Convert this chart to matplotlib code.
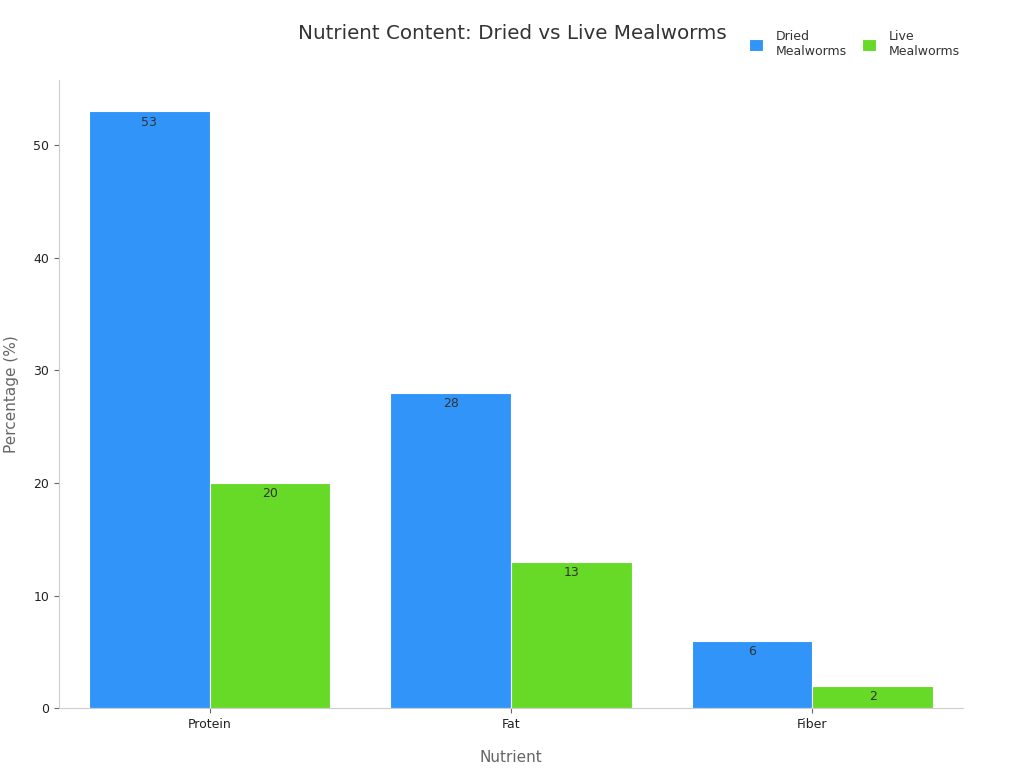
import matplotlib
matplotlib.use("Agg")
import matplotlib.pyplot as plt
import numpy as np

nutrients = ["Protein", "Fat", "Fiber"]
dried = [53, 28, 6]
live = [20, 13, 2]
series_names = ["Dried\nMealworms", "Live\nMealworms"]
colors = ["#3094F8", "#66DA26"]

plt.rcParams["font.family"] = ["DejaVu Sans"]

fig = plt.figure(figsize=(10.24, 7.68), dpi=100)
ax = fig.add_axes([0.0576, 0.078, 0.8828, 0.818])

x = np.arange(len(nutrients))
w = 0.4
for i, (vals, name, c) in enumerate(zip([dried, live], series_names, colors)):
    b = ax.bar(x - w / 2 + i * w, vals, w, color=c, edgecolor="white",
               linewidth=0.8, label=name)
    for rect, v in zip(b, vals):
        ax.annotate(str(v), (rect.get_x() + rect.get_width() / 2, v),
                    xytext=(0, -3), textcoords="offset points",
                    ha="center", va="top", fontsize=9, color="#333333")

ax.set_xlim(-0.5, 2.5)
ax.set_ylim(0, 53 * 1.053)
ax.set_xticks(x)
ax.set_xticklabels(nutrients)
ax.set_yticks([0, 10, 20, 30, 40, 50])
for s in ["top", "right"]:
    ax.spines[s].set_visible(False)
for s in ["left", "bottom"]:
    ax.spines[s].set_color("#cccccc")
ax.tick_params(axis="both", colors="#666666", labelcolor="#222222", labelsize=9)
ax.set_xlabel("Nutrient", fontsize=11, color="#666666", labelpad=14)
ax.set_ylabel("Percentage (%)", fontsize=11, color="#666666", labelpad=10)

fig.text(0.5, 0.957, "Nutrient Content: Dried vs Live Mealworms",
         ha="center", va="center", fontsize=14.3, color="#333333")
fig.legend(loc="upper right", bbox_to_anchor=(0.948, 0.975), ncol=2,
           frameon=False, fontsize=9, handlelength=1.15, handleheight=1.15,
           columnspacing=1.2, handletextpad=1.0, labelcolor="#333333")

fig.savefig("out.png", dpi=100)
